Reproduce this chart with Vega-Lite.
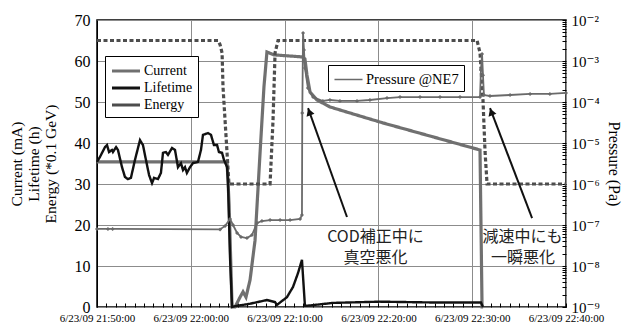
{
  "$schema": "https://vega.github.io/schema/vega-lite/v6.json",
  "width": 469,
  "height": 287,
  "autosize": "none",
  "padding": {"left": 97, "top": 20, "right": 63, "bottom": 18},
  "background": "white",
  "config": {
    "font": "Times New Roman, Liberation Serif, DejaVu Serif, serif",
    "view": {"stroke": "black", "strokeWidth": 1.5},
    "axis": {
      "domainColor": "black",
      "tickColor": "black",
      "labelColor": "black",
      "titleColor": "black",
      "titleFontWeight": "normal",
      "labelFont": "Times New Roman, Liberation Serif, DejaVu Serif, serif",
      "titleFont": "Times New Roman, Liberation Serif, DejaVu Serif, serif",
      "gridColor": "#8c8c8c",
      "gridWidth": 1
    },
    "legend": {
      "labelFont": "Times New Roman, Liberation Serif, DejaVu Serif, serif"
    }
  },
  "datasets": {
    "dmain": [
      {"s": "Current", "t": "2009-06-23T21:50:00", "v": 35.4},
      {"s": "Current", "t": "2009-06-23T22:03:52", "v": 35.4},
      {"s": "Current", "t": "2009-06-23T22:04:05", "v": 25},
      {"s": "Current", "t": "2009-06-23T22:04:24", "v": 0},
      {"s": "Current", "t": "2009-06-23T22:04:43", "v": 0},
      {"s": "Current", "t": "2009-06-23T22:05:15", "v": 2.4},
      {"s": "Current", "t": "2009-06-23T22:05:34", "v": 3.7},
      {"s": "Current", "t": "2009-06-23T22:05:53", "v": 2.4},
      {"s": "Current", "t": "2009-06-23T22:06:19", "v": 6.6},
      {"s": "Current", "t": "2009-06-23T22:06:51", "v": 16.3},
      {"s": "Current", "t": "2009-06-23T22:07:23", "v": 37.6},
      {"s": "Current", "t": "2009-06-23T22:07:48", "v": 53.7},
      {"s": "Current", "t": "2009-06-23T22:08:07", "v": 62.2},
      {"s": "Current", "t": "2009-06-23T22:08:20", "v": 62.0},
      {"s": "Current", "t": "2009-06-23T22:08:52", "v": 61.5},
      {"s": "Current", "t": "2009-06-23T22:11:51", "v": 61.0},
      {"s": "Current", "t": "2009-06-23T22:12:10", "v": 60.5},
      {"s": "Current", "t": "2009-06-23T22:12:23", "v": 56.6},
      {"s": "Current", "t": "2009-06-23T22:12:43", "v": 52.4},
      {"s": "Current", "t": "2009-06-23T22:13:27", "v": 50.5},
      {"s": "Current", "t": "2009-06-23T22:14:50", "v": 48.8},
      {"s": "Current", "t": "2009-06-23T22:17:43", "v": 46.8},
      {"s": "Current", "t": "2009-06-23T22:20:29", "v": 44.9},
      {"s": "Current", "t": "2009-06-23T22:25:49", "v": 41.5},
      {"s": "Current", "t": "2009-06-23T22:30:50", "v": 38.3},
      {"s": "Current", "t": "2009-06-23T22:31:03", "v": 0},
      {"s": "Current", "t": "2009-06-23T22:31:10", "v": 0},
      {"s": "Lifetime", "t": "2009-06-23T21:50:00", "v": 35.4},
      {"s": "Lifetime", "t": "2009-06-23T21:50:19", "v": 36.6},
      {"s": "Lifetime", "t": "2009-06-23T21:50:51", "v": 39.0},
      {"s": "Lifetime", "t": "2009-06-23T21:51:04", "v": 39.5},
      {"s": "Lifetime", "t": "2009-06-23T21:51:17", "v": 37.8},
      {"s": "Lifetime", "t": "2009-06-23T21:51:36", "v": 38.3},
      {"s": "Lifetime", "t": "2009-06-23T21:51:42", "v": 37.8},
      {"s": "Lifetime", "t": "2009-06-23T21:52:02", "v": 39.0},
      {"s": "Lifetime", "t": "2009-06-23T21:52:14", "v": 38.3},
      {"s": "Lifetime", "t": "2009-06-23T21:52:40", "v": 34.1},
      {"s": "Lifetime", "t": "2009-06-23T21:52:59", "v": 31.7},
      {"s": "Lifetime", "t": "2009-06-23T21:53:18", "v": 31.2},
      {"s": "Lifetime", "t": "2009-06-23T21:53:37", "v": 31.5},
      {"s": "Lifetime", "t": "2009-06-23T21:54:03", "v": 35.9},
      {"s": "Lifetime", "t": "2009-06-23T21:54:35", "v": 40.7},
      {"s": "Lifetime", "t": "2009-06-23T21:54:54", "v": 39.5},
      {"s": "Lifetime", "t": "2009-06-23T21:55:13", "v": 35.9},
      {"s": "Lifetime", "t": "2009-06-23T21:55:33", "v": 32.2},
      {"s": "Lifetime", "t": "2009-06-23T21:55:52", "v": 30.2},
      {"s": "Lifetime", "t": "2009-06-23T21:56:05", "v": 31.5},
      {"s": "Lifetime", "t": "2009-06-23T21:56:30", "v": 31.2},
      {"s": "Lifetime", "t": "2009-06-23T21:56:49", "v": 32.7},
      {"s": "Lifetime", "t": "2009-06-23T21:57:02", "v": 37.6},
      {"s": "Lifetime", "t": "2009-06-23T21:57:21", "v": 37.8},
      {"s": "Lifetime", "t": "2009-06-23T21:57:34", "v": 37.1},
      {"s": "Lifetime", "t": "2009-06-23T21:58:00", "v": 38.8},
      {"s": "Lifetime", "t": "2009-06-23T21:58:19", "v": 38.3},
      {"s": "Lifetime", "t": "2009-06-23T21:58:38", "v": 34.1},
      {"s": "Lifetime", "t": "2009-06-23T21:58:57", "v": 35.1},
      {"s": "Lifetime", "t": "2009-06-23T21:59:10", "v": 33.4},
      {"s": "Lifetime", "t": "2009-06-23T21:59:23", "v": 34.1},
      {"s": "Lifetime", "t": "2009-06-23T21:59:35", "v": 32.7},
      {"s": "Lifetime", "t": "2009-06-23T21:59:55", "v": 34.1},
      {"s": "Lifetime", "t": "2009-06-23T22:00:14", "v": 35.1},
      {"s": "Lifetime", "t": "2009-06-23T22:00:46", "v": 35.4},
      {"s": "Lifetime", "t": "2009-06-23T22:01:05", "v": 38.3},
      {"s": "Lifetime", "t": "2009-06-23T22:01:18", "v": 42.0},
      {"s": "Lifetime", "t": "2009-06-23T22:01:50", "v": 42.4},
      {"s": "Lifetime", "t": "2009-06-23T22:02:09", "v": 42.0},
      {"s": "Lifetime", "t": "2009-06-23T22:02:28", "v": 39.5},
      {"s": "Lifetime", "t": "2009-06-23T22:02:48", "v": 39.5},
      {"s": "Lifetime", "t": "2009-06-23T22:03:00", "v": 37.8},
      {"s": "Lifetime", "t": "2009-06-23T22:03:20", "v": 37.6},
      {"s": "Lifetime", "t": "2009-06-23T22:03:32", "v": 35.9},
      {"s": "Lifetime", "t": "2009-06-23T22:03:52", "v": 34.1},
      {"s": "Lifetime", "t": "2009-06-23T22:03:58", "v": 30.5},
      {"s": "Lifetime", "t": "2009-06-23T22:04:11", "v": 12.0},
      {"s": "Lifetime", "t": "2009-06-23T22:04:24", "v": 0},
      {"s": "Lifetime", "t": "2009-06-23T22:04:43", "v": 0.2},
      {"s": "Lifetime", "t": "2009-06-23T22:06:19", "v": 0.8},
      {"s": "Lifetime", "t": "2009-06-23T22:08:07", "v": 1.7},
      {"s": "Lifetime", "t": "2009-06-23T22:08:59", "v": 1.2},
      {"s": "Lifetime", "t": "2009-06-23T22:09:11", "v": 0.5},
      {"s": "Lifetime", "t": "2009-06-23T22:10:15", "v": 2.4},
      {"s": "Lifetime", "t": "2009-06-23T22:10:54", "v": 4.9},
      {"s": "Lifetime", "t": "2009-06-23T22:11:26", "v": 8.3},
      {"s": "Lifetime", "t": "2009-06-23T22:11:51", "v": 11.5},
      {"s": "Lifetime", "t": "2009-06-23T22:12:10", "v": 0.3},
      {"s": "Lifetime", "t": "2009-06-23T22:12:23", "v": 0.3},
      {"s": "Lifetime", "t": "2009-06-23T22:15:10", "v": 1.0},
      {"s": "Lifetime", "t": "2009-06-23T22:20:10", "v": 1.3},
      {"s": "Lifetime", "t": "2009-06-23T22:25:49", "v": 1.1},
      {"s": "Lifetime", "t": "2009-06-23T22:30:56", "v": 1.1},
      {"s": "Lifetime", "t": "2009-06-23T22:31:09", "v": 0},
      {"s": "Energy", "t": "2009-06-23T21:50:00", "v": 65},
      {"s": "Energy", "t": "2009-06-23T22:02:54", "v": 65},
      {"s": "Energy", "t": "2009-06-23T22:03:07", "v": 64},
      {"s": "Energy", "t": "2009-06-23T22:03:20", "v": 62},
      {"s": "Energy", "t": "2009-06-23T22:03:26", "v": 53.7},
      {"s": "Energy", "t": "2009-06-23T22:03:52", "v": 37.5},
      {"s": "Energy", "t": "2009-06-23T22:04:04", "v": 30},
      {"s": "Energy", "t": "2009-06-23T22:08:27", "v": 30},
      {"s": "Energy", "t": "2009-06-23T22:08:46", "v": 45.6},
      {"s": "Energy", "t": "2009-06-23T22:08:59", "v": 62},
      {"s": "Energy", "t": "2009-06-23T22:09:18", "v": 65},
      {"s": "Energy", "t": "2009-06-23T22:30:31", "v": 65},
      {"s": "Energy", "t": "2009-06-23T22:30:50", "v": 62},
      {"s": "Energy", "t": "2009-06-23T22:31:09", "v": 50.5},
      {"s": "Energy", "t": "2009-06-23T22:31:22", "v": 38},
      {"s": "Energy", "t": "2009-06-23T22:31:35", "v": 30},
      {"s": "Energy", "t": "2009-06-23T22:40:00", "v": 30}
    ],
    "dpres": [
      {"s": "Pressure @NE7", "t": "2009-06-23T21:50:00", "p": 8.0e-8},
      {"s": "Pressure @NE7", "t": "2009-06-23T21:51:10", "p": 8.0e-8},
      {"s": "Pressure @NE7", "t": "2009-06-23T21:51:40", "p": 8.0e-8},
      {"s": "Pressure @NE7", "t": "2009-06-23T22:03:07", "p": 7.8e-8},
      {"s": "Pressure @NE7", "t": "2009-06-23T22:03:39", "p": 9.5e-8},
      {"s": "Pressure @NE7", "t": "2009-06-23T22:04:11", "p": 1.4e-7},
      {"s": "Pressure @NE7", "t": "2009-06-23T22:04:30", "p": 1.0e-7},
      {"s": "Pressure @NE7", "t": "2009-06-23T22:04:56", "p": 6.4e-8},
      {"s": "Pressure @NE7", "t": "2009-06-23T22:05:21", "p": 5.1e-8},
      {"s": "Pressure @NE7", "t": "2009-06-23T22:05:59", "p": 4.8e-8},
      {"s": "Pressure @NE7", "t": "2009-06-23T22:06:31", "p": 5.7e-8},
      {"s": "Pressure @NE7", "t": "2009-06-23T22:07:04", "p": 1.12e-7},
      {"s": "Pressure @NE7", "t": "2009-06-23T22:07:35", "p": 1.25e-7},
      {"s": "Pressure @NE7", "t": "2009-06-23T22:08:27", "p": 1.32e-7},
      {"s": "Pressure @NE7", "t": "2009-06-23T22:09:31", "p": 1.32e-7},
      {"s": "Pressure @NE7", "t": "2009-06-23T22:10:35", "p": 1.32e-7},
      {"s": "Pressure @NE7", "t": "2009-06-23T22:11:39", "p": 1.4e-7},
      {"s": "Pressure @NE7", "t": "2009-06-23T22:11:51", "p": 1.75e-7},
      {"s": "Pressure @NE7", "t": "2009-06-23T22:11:53", "p": 5.4e-5},
      {"s": "Pressure @NE7", "t": "2009-06-23T22:11:58", "p": 4.8e-3},
      {"s": "Pressure @NE7", "t": "2009-06-23T22:12:04", "p": 1.85e-3},
      {"s": "Pressure @NE7", "t": "2009-06-23T22:12:10", "p": 6.75e-4},
      {"s": "Pressure @NE7", "t": "2009-06-23T22:12:29", "p": 2.19e-4},
      {"s": "Pressure @NE7", "t": "2009-06-23T22:13:02", "p": 1.32e-4},
      {"s": "Pressure @NE7", "t": "2009-06-23T22:14:05", "p": 1.06e-4},
      {"s": "Pressure @NE7", "t": "2009-06-23T22:14:50", "p": 1.12e-4},
      {"s": "Pressure @NE7", "t": "2009-06-23T22:15:54", "p": 1.06e-4},
      {"s": "Pressure @NE7", "t": "2009-06-23T22:17:43", "p": 1.06e-4},
      {"s": "Pressure @NE7", "t": "2009-06-23T22:19:06", "p": 1.12e-4},
      {"s": "Pressure @NE7", "t": "2009-06-23T22:20:55", "p": 1.25e-4},
      {"s": "Pressure @NE7", "t": "2009-06-23T22:22:18", "p": 1.32e-4},
      {"s": "Pressure @NE7", "t": "2009-06-23T22:24:26", "p": 1.32e-4},
      {"s": "Pressure @NE7", "t": "2009-06-23T22:26:34", "p": 1.32e-4},
      {"s": "Pressure @NE7", "t": "2009-06-23T22:28:42", "p": 1.32e-4},
      {"s": "Pressure @NE7", "t": "2009-06-23T22:30:50", "p": 1.32e-4},
      {"s": "Pressure @NE7", "t": "2009-06-23T22:30:56", "p": 6.0e-4},
      {"s": "Pressure @NE7", "t": "2009-06-23T22:31:03", "p": 1.48e-3},
      {"s": "Pressure @NE7", "t": "2009-06-23T22:31:09", "p": 4.5e-4},
      {"s": "Pressure @NE7", "t": "2009-06-23T22:31:15", "p": 1.48e-4},
      {"s": "Pressure @NE7", "t": "2009-06-23T22:31:54", "p": 1.4e-4},
      {"s": "Pressure @NE7", "t": "2009-06-23T22:34:02", "p": 1.48e-4},
      {"s": "Pressure @NE7", "t": "2009-06-23T22:36:10", "p": 1.57e-4},
      {"s": "Pressure @NE7", "t": "2009-06-23T22:38:17", "p": 1.57e-4},
      {"s": "Pressure @NE7", "t": "2009-06-23T22:40:00", "p": 1.66e-4}
    ],
    "darrows": [
      {"t1": "2009-06-23T22:16:39", "v1": 21.95, "t2": "2009-06-23T22:12:30", "v2": 48.5, "th": "2009-06-23T22:12:38", "vh": 47.6},
      {"t1": "2009-06-23T22:36:23", "v1": 21.7, "t2": "2009-06-23T22:31:54", "v2": 48.5, "th": "2009-06-23T22:32:02", "vh": 47.6}
    ],
    "dnotes": [
      {"t": "2009-06-23T22:19:41", "v": 17.1, "label": "COD補正中に"},
      {"t": "2009-06-23T22:19:41", "v": 12.0, "label": "真空悪化"},
      {"t": "2009-06-23T22:35:22", "v": 17.1, "label": "減速中にも"},
      {"t": "2009-06-23T22:35:25", "v": 12.0, "label": "一瞬悪化"}
    ]
  },
  "layer": [
    {
      "layer": [
        {
          "data": {"name": "dmain"},
          "transform": [{"filter": "datum.s != 'Lifetime'"}],
          "mark": {"type": "line", "strokeWidth": 3.2},
          "encoding": {
            "x": {
              "field": "t", "type": "temporal",
              "scale": {"domain": [
                {"year": 2009, "month": 6, "date": 23, "hours": 21, "minutes": 50},
                {"year": 2009, "month": 6, "date": 23, "hours": 22, "minutes": 40}
              ], "nice": false},
              "axis": {
                "title": null,
                "tickCount": 50,
                "format": "%-m/%d/%y %H:%M:%S",
                "labelExpr": "minutes(datum.value) % 10 == 0 ? datum.label : ''",
                "gridOpacity": {"condition": {"test": "minutes(datum.value) % 10 == 0", "value": 1}, "value": 0},
                "domain": false,
                "labelFontSize": 11,
                "labelPadding": 5,
                "labelOverlap": false,
                "labelFlush": false,
                "tickSize": 4,
                "offset": -4
              }
            },
            "y": {
              "field": "v", "type": "quantitative",
              "scale": {"domain": [0, 70], "nice": false},
              "axis": {
                "title": ["Current (mA)", "Lifetime (h)", "Energy (*0.1 GeV)"],
                "titleFontSize": 15.5,
                "titleLineHeight": 17,
                "titlePadding": 16,
                "values": [0, 10, 20, 30, 40, 50, 60, 70],
                "labelFontSize": 16,
                "labelPadding": 7,
                "tickSize": 0
              }
            },
            "color": {
              "field": "s", "type": "nominal",
              "scale": {"domain": ["Current", "Lifetime", "Energy"], "range": ["#707070", "#111111", "#4d4d4d"]},
              "legend": {
                "title": null,
                "orient": "none",
                "legendX": 8,
                "legendY": 36,
                "strokeColor": "black",
                "fillColor": "white",
                "padding": 5,
                "symbolType": "M-1.65,0H1.65",
                "symbolSize": 289,
                "symbolOffset": 6,
                "symbolStrokeWidth": 3,
                "labelFontSize": 14,
                "labelColor": "black",
                "rowPadding": 0,
                "labelOffset": 8
              }
            },
            "strokeDash": {
              "field": "s", "type": "nominal",
              "scale": {"domain": ["Current", "Lifetime", "Energy"], "range": [[1, 0], [1, 0], [4, 2.5]]}
            }
          }
        },
        {
          "data": {"name": "dmain"},
          "transform": [{"filter": "datum.s == 'Lifetime'"}],
          "mark": {"type": "line", "strokeWidth": 2.4},
          "encoding": {
            "x": {"field": "t", "type": "temporal"},
            "y": {"field": "v", "type": "quantitative"},
            "color": {"field": "s", "type": "nominal"},
            "strokeDash": {"field": "s", "type": "nominal"}
          }
        },
        {
          "data": {"name": "darrows"},
          "mark": {"type": "rule", "color": "#111111", "strokeWidth": 2},
          "encoding": {
            "x": {"field": "t1", "type": "temporal"},
            "y": {"field": "v1", "type": "quantitative"},
            "x2": {"field": "t2"},
            "y2": {"field": "v2"}
          }
        },
        {
          "data": {"name": "darrows"},
          "mark": {"type": "point", "shape": "triangle-up", "angle": 340.5, "size": 70, "filled": true, "color": "#111111", "opacity": 1},
          "encoding": {
            "x": {"field": "th", "type": "temporal"},
            "y": {"field": "vh", "type": "quantitative"}
          }
        },
        {
          "data": {"name": "dnotes"},
          "mark": {"type": "text", "font": "Noto Sans CJK JP", "fontSize": 16, "color": "#222222", "align": "center", "baseline": "middle"},
          "encoding": {
            "x": {"field": "t", "type": "temporal"},
            "y": {"field": "v", "type": "quantitative"},
            "text": {"field": "label"}
          }
        }
      ]
    },
    {
      "data": {"name": "dpres"},
      "mark": {"type": "line", "strokeWidth": 1.8, "point": {"shape": "diamond", "size": 16, "filled": true}},
      "encoding": {
        "x": {"field": "t", "type": "temporal"},
        "y": {
          "field": "p", "type": "quantitative",
          "scale": {"type": "log", "domain": [1e-9, 1e-2], "nice": false},
          "axis": {
            "orient": "right",
            "title": "Pressure (Pa)",
            "titleAngle": 90,
            "titleFontSize": 16,
            "titlePadding": 6,
            "grid": false,
            "domain": false,
            "values": [1e-9,2e-9,3e-9,4e-9,5e-9,6e-9,7e-9,8e-9,9e-9,1e-8,2e-8,3e-8,4e-8,5e-8,6e-8,7e-8,8e-8,9e-8,1e-7,2e-7,3e-7,4e-7,5e-7,6e-7,7e-7,8e-7,9e-7,1e-6,2e-6,3e-6,4e-6,5e-6,6e-6,7e-6,8e-6,9e-6,1e-5,2e-5,3e-5,4e-5,5e-5,6e-5,7e-5,8e-5,9e-5,1e-4,2e-4,3e-4,4e-4,5e-4,6e-4,7e-4,8e-4,9e-4,1e-3,2e-3,3e-3,4e-3,5e-3,6e-3,7e-3,8e-3,9e-3,1e-2],
            "labelExpr": "abs(datum.value/1e-9 - 1) < 0.01 ? '10⁻⁹' : abs(datum.value/1e-8 - 1) < 0.01 ? '10⁻⁸' : abs(datum.value/1e-7 - 1) < 0.01 ? '10⁻⁷' : abs(datum.value/1e-6 - 1) < 0.01 ? '10⁻⁶' : abs(datum.value/1e-5 - 1) < 0.01 ? '10⁻⁵' : abs(datum.value/1e-4 - 1) < 0.01 ? '10⁻⁴' : abs(datum.value/1e-3 - 1) < 0.01 ? '10⁻³' : abs(datum.value/1e-2 - 1) < 0.01 ? '10⁻²' : ''",
            "labelOverlap": false,
            "labelFontSize": 15,
            "labelPadding": 5,
            "tickSize": 4,
            "offset": -4
          }
        },
        "color": {
          "field": "s", "type": "nominal",
          "scale": {"domain": ["Pressure @NE7"], "range": ["#6a6a6a"]},
          "legend": {
            "title": null,
            "orient": "none",
            "legendX": 231,
            "legendY": 45,
            "strokeColor": "black",
            "fillColor": "white",
            "padding": 5,
            "symbolType": "M-1.65,0H1.65",
            "symbolSize": 289,
            "symbolOffset": 6,
            "symbolStrokeWidth": 1.5,
            "labelFontSize": 14.5,
            "labelColor": "black",
            "labelOffset": 8
          }
        }
      }
    }
  ],
  "resolve": {"scale": {"y": "independent", "color": "independent"}}
}
